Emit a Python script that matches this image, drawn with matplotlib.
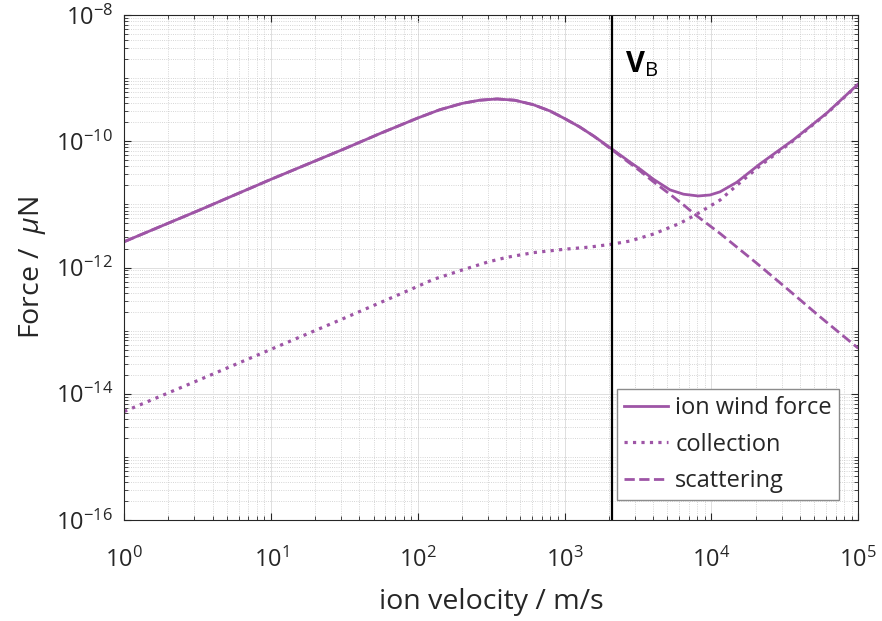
import matplotlib
matplotlib.use("Agg")
import matplotlib.pyplot as plt
from matplotlib.ticker import NullFormatter

plt.rcParams['font.family'] = ['Open Sans', 'DejaVu Sans']
plt.rcParams['mathtext.fontset'] = 'custom'
plt.rcParams['mathtext.rm'] = 'Open Sans'
plt.rcParams['mathtext.it'] = 'Open Sans:italic'
plt.rcParams['mathtext.bf'] = 'Open Sans:bold'
plt.rcParams['axes.unicode_minus'] = False

# values (velocity in m/s, force)
v_wind = [1, 3.16, 10, 31.6, 56.2, 100, 141, 200, 263, 347, 457, 611, 794, 1000,
          1259, 1585, 2089, 2786, 3260, 4018, 5212, 6457, 8128, 9772, 11430,
          14860, 21380, 36060, 60950, 1e5]
f_wind = [2.57e-12, 7.9e-12, 2.5e-11, 7.6e-11, 1.35e-10, 2.34e-10, 3.16e-10,
          3.98e-10, 4.47e-10, 4.68e-10, 4.47e-10, 3.80e-10, 3.02e-10, 2.29e-10,
          1.70e-10, 1.20e-10, 7.6e-11, 4.68e-11, 3.63e-11, 2.51e-11, 1.70e-11,
          1.45e-11, 1.36e-11, 1.41e-11, 1.58e-11, 2.24e-11, 4.37e-11, 1.05e-10,
          2.79e-10, 8.1e-10]

v_coll = [1, 3.16, 10, 31.6, 90.8, 127, 200, 302, 403, 611, 1000, 1486, 2089,
          2786, 4018, 6095, 7925, 11430, 14860, 21380, 36060, 60950, 1e5]
f_coll = [5.25e-15, 1.62e-14, 5.07e-14, 1.58e-13, 4.57e-13, 6.46e-13, 9.12e-13,
          1.23e-12, 1.45e-12, 1.72e-12, 1.95e-12, 2.11e-12, 2.34e-12, 2.63e-12,
          3.39e-12, 5.01e-12, 7.0e-12, 1.17e-11, 2.0e-11, 4.07e-11, 1.02e-10,
          2.75e-10, 7.94e-10]

v_scat = [1, 3.16, 10, 31.6, 56.2, 100, 141, 200, 263, 347, 457, 611, 794, 1000,
          1259, 1585, 2089, 2786, 3260, 4018, 5212, 6457, 7925, 11430, 20320,
          32510, 54830, 1e5]
f_scat = [2.57e-12, 7.9e-12, 2.5e-11, 7.6e-11, 1.35e-10, 2.34e-10, 3.16e-10,
          3.98e-10, 4.47e-10, 4.68e-10, 4.47e-10, 3.80e-10, 3.02e-10, 2.29e-10,
          1.70e-10, 1.20e-10, 7.41e-11, 4.47e-11, 3.39e-11, 2.29e-11, 1.45e-11,
          9.8e-12, 6.6e-12, 3.47e-12, 1.17e-12, 4.68e-13, 1.66e-13, 5.25e-14]

v_B = 2090

purple = '#9e55a6'
dark = '#262626'

fig = plt.figure(figsize=(8.82, 6.21), dpi=100)
ax = fig.add_axes([0.1409, 0.1626, 0.8322, 0.8132])

ax.plot(v_wind, f_wind, '-', color=purple, lw=2.0, label='ion wind force')
ax.plot(v_coll, f_coll, ':', color=purple, lw=2.3, label='collection')
ax.plot(v_scat, f_scat, '--', color=purple, lw=2.0, label='scattering')
ax.axvline(v_B, color='black', lw=1.6)

ax.set_xscale('log')
ax.set_yscale('log')
ax.set_xlim(1, 1e5)
ax.set_ylim(1e-16, 1e-8)

ax.set_xticks([10.0**k for k in range(0, 6)])
ax.set_xticks([m * 10.0**k for k in range(0, 5) for m in range(2, 10)], minor=True)
ax.set_yticks([10.0**k for k in range(-16, -7, 2)])
ax.set_yticks([m * 10.0**k for k in range(-16, -8) for m in range(1, 10)
               if not (m == 1 and k % 2 == 0)], minor=True)
ax.xaxis.set_minor_formatter(NullFormatter())
ax.yaxis.set_minor_formatter(NullFormatter())

ax.grid(True, which='major', color='#dedede', lw=0.7, ls='-')
ax.grid(True, which='minor', color='#c8c8c8', lw=0.6, ls=':')
ax.set_axisbelow(True)

ax.tick_params(which='both', direction='in', top=True, right=True, colors=dark,
               labelsize=17)
ax.tick_params(which='major', length=5, width=0.8)
ax.tick_params(which='minor', length=3, width=0.6)
ax.tick_params(axis='x', pad=20)
ax.tick_params(axis='y', pad=8)
for s in ax.spines.values():
    s.set_color(dark)
    s.set_linewidth(0.8)

ax.set_xlabel('ion velocity / m/s', fontsize=20.5, color=dark, labelpad=11)
ax.set_ylabel(r'Force /  $\mu$N', fontsize=20.5, color=dark, labelpad=6)

ax.text(0.682, 0.887, r'$\mathbf{V}_{\mathrm{B}}$', transform=ax.transAxes,
        fontsize=21, color='black', ha='left', va='baseline')

leg = ax.legend(loc='lower right', bbox_to_anchor=(0.9737, 0.0396),
                borderaxespad=0, fontsize=17, fancybox=False, framealpha=1,
                edgecolor='#8c8c8c', handlelength=1.85, labelspacing=0.52,
                borderpad=0.3, handletextpad=0.3)
leg.get_frame().set_linewidth(1.0)
for t in leg.get_texts():
    t.set_color(dark)

fig.savefig('out.png', dpi=100)
